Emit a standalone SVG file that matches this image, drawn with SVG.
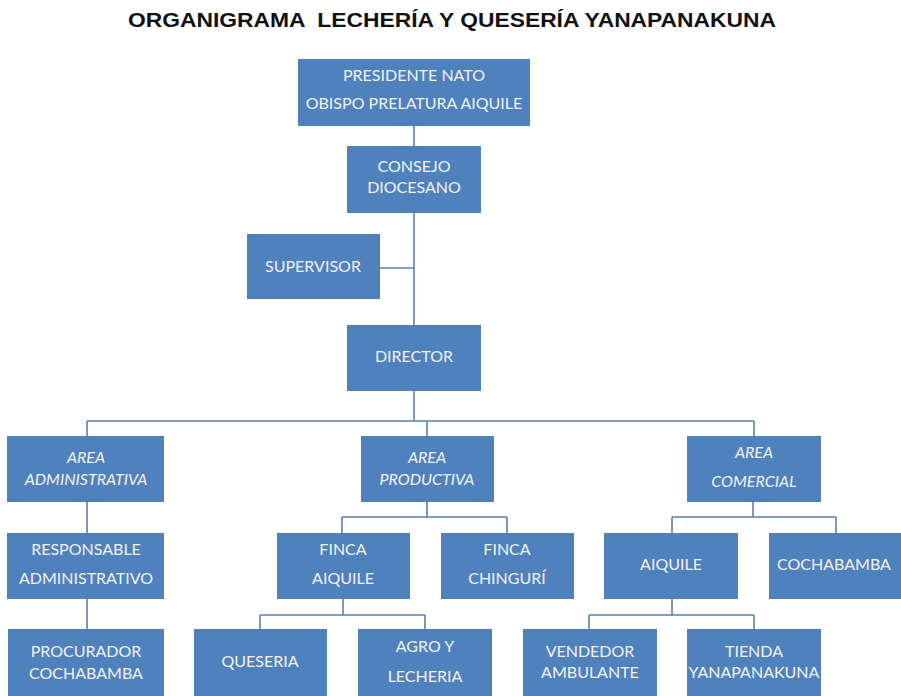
<svg xmlns="http://www.w3.org/2000/svg" width="901" height="696" viewBox="0 0 901 696">
<style>
.box{fill:#4f81bd}
.t{font-family:"Lato","Liberation Sans",sans-serif;font-size:16px;fill:#f2f2f2;text-anchor:middle}
.i{font-style:italic}
.title{font-family:"Liberation Sans",Arial,sans-serif;font-weight:bold;font-size:21px;fill:#111;text-anchor:middle}
.c{fill:none;stroke:#5b7fb5;stroke-width:1.6}
</style>
<rect width="901" height="696" fill="#fff"/>
<text class="title" x="452" y="27" textLength="648" lengthAdjust="spacingAndGlyphs" xml:space="preserve">ORGANIGRAMA  LECHERÍA Y QUESERÍA YANAPANAKUNA</text>
<g id="connectors">
<path class="c" d="M414 126V325M380 268H414M414 391V421M87 421H754M87 421V436M427 421V436M754 421V436"/>
<path class="c" d="M87 502V533M87 599V629"/>
<path class="c" d="M427 502V517M342 517H507M342 517V533M507 517V533"/>
<path class="c" d="M343 599V615M260 615H425M260 615V629M425 615V629"/>
<path class="c" d="M753 502V517M672 517H836M672 517V533M836 517V533"/>
<path class="c" d="M672 599V615M589 615H754M589 615V629M754 615V629"/>
</g>
<g id="presidente"><rect class="box" x="298" y="59" width="232" height="67"/><text class="t" x="414" y="81">PRESIDENTE NATO</text><text class="t" x="414" y="109">OBISPO PRELATURA AIQUILE</text></g>
<g id="consejo"><rect class="box" x="347" y="146" width="134" height="67"/><text class="t" x="414" y="172">CONSEJO</text><text class="t" x="414" y="193">DIOCESANO</text></g>
<g id="supervisor"><rect class="box" x="247" y="234" width="133" height="65"/><text class="t" x="313" y="272">SUPERVISOR</text></g>
<g id="director"><rect class="box" x="347" y="325" width="134" height="66"/><text class="t" x="414" y="362">DIRECTOR</text></g>
<g id="area-administrativa"><rect class="box" x="7" y="436" width="157" height="66"/><text class="t i" x="86" y="463">AREA</text><text class="t i" x="86" y="485">ADMINISTRATIVA</text></g>
<g id="area-productiva"><rect class="box" x="361" y="436" width="133" height="66"/><text class="t i" x="427" y="463">AREA</text><text class="t i" x="427" y="485">PRODUCTIVA</text></g>
<g id="area-comercial"><rect class="box" x="687" y="436" width="134" height="66"/><text class="t i" x="754" y="458">AREA</text><text class="t i" x="754" y="487">COMERCIAL</text></g>
<g id="responsable"><rect class="box" x="7" y="533" width="157" height="66"/><text class="t" x="86" y="555">RESPONSABLE</text><text class="t" x="86" y="584">ADMINISTRATIVO</text></g>
<g id="procurador"><rect class="box" x="8" y="629" width="156" height="67"/><text class="t" x="86" y="657">PROCURADOR</text><text class="t" x="86" y="679">COCHABAMBA</text></g>
<g id="finca-aiquile"><rect class="box" x="277" y="533" width="133" height="66"/><text class="t" x="343" y="555">FINCA</text><text class="t" x="343" y="584">AIQUILE</text></g>
<g id="finca-chinguri"><rect class="box" x="441" y="533" width="133" height="66"/><text class="t" x="507" y="555">FINCA</text><text class="t" x="507" y="584">CHINGURÍ</text></g>
<g id="queseria"><rect class="box" x="194" y="629" width="133" height="67"/><text class="t" x="260" y="667">QUESERIA</text></g>
<g id="agro-lecheria"><rect class="box" x="358" y="629" width="134" height="67"/><text class="t" x="425" y="652">AGRO Y</text><text class="t" x="425" y="682">LECHERIA</text></g>
<g id="aiquile"><rect class="box" x="604" y="533" width="134" height="66"/><text class="t" x="671" y="570">AIQUILE</text></g>
<g id="cochabamba"><rect class="box" x="769" y="533" width="132" height="66"/><text class="t" x="834" y="570">COCHABAMBA</text></g>
<g id="vendedor"><rect class="box" x="523" y="629" width="134" height="67"/><text class="t" x="590" y="657">VENDEDOR</text><text class="t" x="590" y="678">AMBULANTE</text></g>
<g id="tienda"><rect class="box" x="687" y="629" width="134" height="67"/><text class="t" x="754" y="657">TIENDA</text><text class="t" x="754" y="678">YANAPANAKUNA</text></g>
</svg>
